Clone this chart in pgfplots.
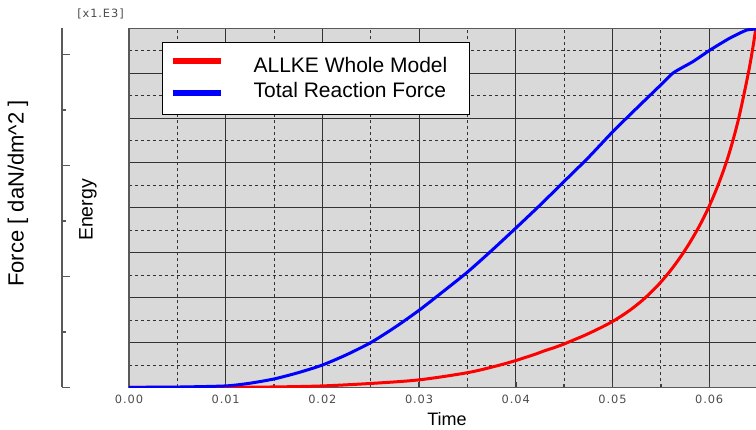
\documentclass[border=0pt]{standalone}
\usepackage{fontspec}
\setmainfont{Liberation Sans}
\newfontfamily\tickfont[LetterSpace=8]{DejaVu Sans}
\usepackage{pgfplots}
\pgfplotsset{compat=1.18}

% legend bar drawn at a given height within its row
\pgfplotsset{
  legend bar at/.style={legend image code/.code={%
    \draw[##1, line width=6pt] (0pt,#1) -- (48pt,#1);}},
}

\pgfplotstableread{
t      e
0.0000 0.000
0.0100 0.004
0.0150 0.012
0.0200 0.035
0.0250 0.090
0.0300 0.170
0.0350 0.330
0.0380 0.480
0.0400 0.600
0.0410 0.670
0.0420 0.740
0.0430 0.820
0.0440 0.890
0.0450 0.970
0.0460 1.060
0.0470 1.150
0.0480 1.250
0.0490 1.355
0.0500 1.470
0.0510 1.603
0.0520 1.753
0.0530 1.925
0.0540 2.123
0.0550 2.348
0.0560 2.605
0.0570 2.898
0.0580 3.228
0.0590 3.603
0.0600 4.038
0.0610 4.553
0.0620 5.168
0.0630 5.950
0.0640 6.950
0.0645 7.550
0.0650 8.250
}\allke

\pgfplotstableread{
t      f
0.0000 0.004
0.0050 0.010
0.0100 0.035
0.0125 0.095
0.0150 0.190
0.0175 0.330
0.0200 0.500
0.0225 0.730
0.0250 1.000
0.0275 1.340
0.0300 1.720
0.0325 2.140
0.0350 2.570
0.0375 3.050
0.0400 3.550
0.0425 4.060
0.0450 4.590
0.0475 5.120
0.0500 5.690
0.0525 6.220
0.0550 6.740
0.0563 7.010
0.0583 7.256
0.0601 7.517
0.0621 7.777
0.0639 7.962
0.0650 7.980
}\reaction

\begin{document}
\begin{tikzpicture}
% outer force scale (ticks only)
\begin{axis}[
  at={(-67pt,0pt)}, anchor=south west,
  scale only axis, width=100pt, height=359.2pt,
  xmin=0, xmax=1, ymin=0, ymax=6.47,
  hide x axis,
  axis y line*=left,
  ytick={0,2,4,6}, minor ytick={1,3,5}, yticklabels={},
  tick align=inside,
  major tick length=8pt, minor tick length=4pt,
  y axis line style={black!65, line width=1.2pt},
  every tick/.style={black!65, line width=1.2pt},
  ylabel={Force [ daN/dm\textasciicircum 2 ]},
  ylabel style={at={(axis description cs:-0.44,0.54)}, anchor=center,
    font=\fontsize{22}{26}\selectfont},
]
\end{axis}

% energy / reaction force vs time
\begin{axis}[
  at={(0pt,0pt)}, anchor=south west,
  scale only axis, width=628.55pt, height=359.2pt,
  xmin=0, xmax=0.065, ymin=0, ymax=8,
  axis background/.style={fill=black!15},
  xtick={0,0.01,0.02,0.03,0.04,0.05,0.06}, minor x tick num=1,
  scaled x ticks=false,
  ytick={0,1,2,3,4,5,6,7,8}, minor y tick num=1, yticklabels={},
  grid=both,
  major grid style={black!80, line width=1pt},
  minor grid style={black!80, line width=0.9pt, dash pattern=on 3pt off 3pt},
  axis line style={black!65, line width=1.5pt},
  xtick pos=bottom, tick align=inside,
  major tick length=5pt, minor tick length=3pt,
  xtick style={black!75, line width=1.4pt},
  ytick style={draw=none},
  /pgf/number format/.cd, fixed, fixed zerofill, precision=2, assume math mode=true,
  /pgfplots/.cd,
  xticklabel style={anchor=center, yshift=-11.7pt, text=black!70,
    font=\tickfont\fontsize{11.4}{13}\selectfont},
  xlabel={Time},
  xlabel style={at={(axis description cs:0.506,0)}, anchor=center, yshift=-31.5pt,
    font=\fontsize{18}{21}\selectfont},
  ylabel={Energy},
  ylabel style={at={(axis description cs:-0.0652,0.494)}, anchor=center,
    font=\fontsize{19.5}{23}\selectfont},
  legend cell align=left,
  legend style={at={(rel axis cs:0.0525,0.9627)}, anchor=north west,
    draw=black, line width=1.2pt, fill=white,
    inner xsep=7pt, inner ysep=15pt, row sep=8.7pt,
    font=\fontsize{21}{25}\selectfont,
    nodes={inner sep=0pt},
    /tikz/every odd column/.append style={column sep=30pt}},
]
\addplot[red, line width=3pt, smooth, tension=0.5, legend bar at=5pt]
  table[x=t, y=e] {\allke};
\addlegendentry{\makebox[209pt][l]{ALLKE Whole Model}}
\addplot[blue, line width=3pt, smooth, tension=0.4, legend bar at=-1.5pt]
  table[x=t, y=f] {\reaction};
\addlegendentry{\makebox[209pt][l]{Total Reaction Force}}
\end{axis}

\node[font=\tickfont\fontsize{11.4}{13}\selectfont, text=black!70]
  at (-28.5pt,373.5pt) {[x1.E3]};

\pgfresetboundingbox
\path (-129pt,-42.5pt) rectangle (627pt,387.5pt);
\end{tikzpicture}
\end{document}
